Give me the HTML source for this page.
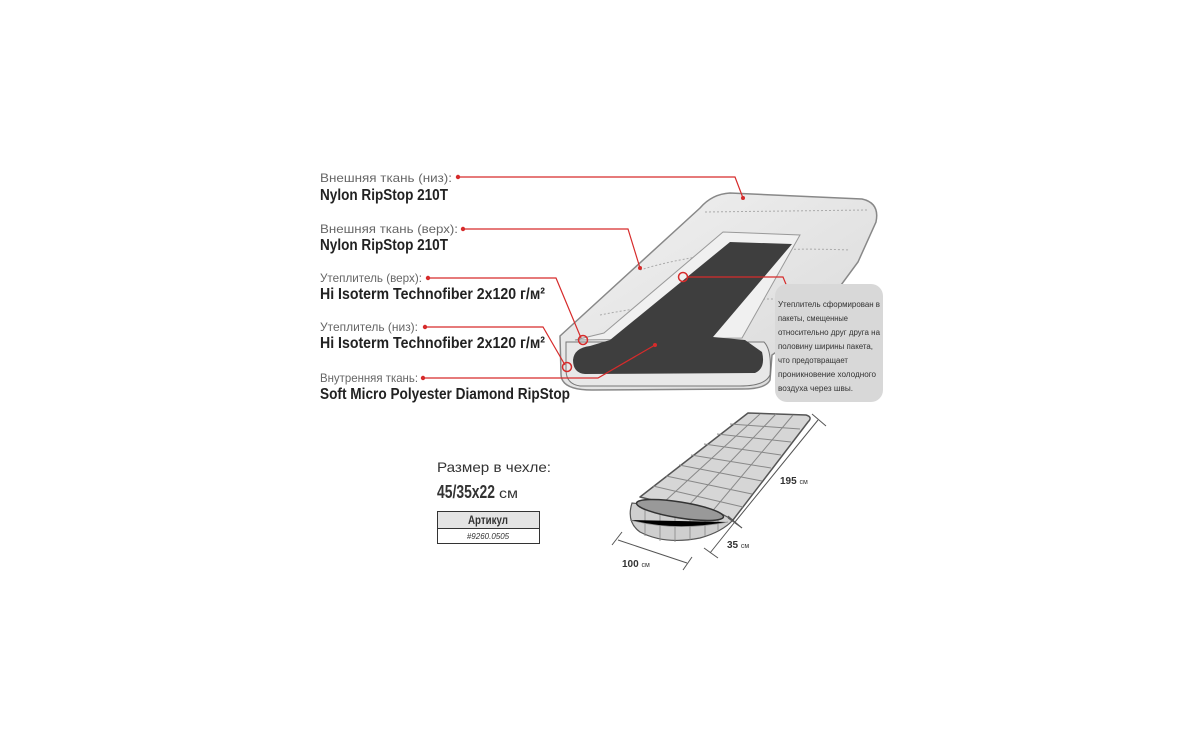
<!DOCTYPE html>
<html><head><meta charset="utf-8"><style>
html,body{margin:0;padding:0;background:#fff;width:1200px;height:750px;overflow:hidden}
svg{display:block;font-family:"Liberation Sans",sans-serif}
.l{font-size:12px;fill:#666}
.b{font-size:16px;font-weight:bold;fill:#222}
.s{font-size:8px;fill:#333}
</style></head><body>
<svg width="1200" height="750" viewBox="0 0 1200 750">
<defs>
<linearGradient id="g1" x1="0" y1="0" x2="1" y2="1"><stop offset="0" stop-color="#f2f2f2"/><stop offset="1" stop-color="#d8d8d8"/></linearGradient>
</defs>
<!-- big bag -->
<path d="M560,336 L700,208 Q712,194 730,193 L862,199 Q880,203 876,222 L858,262 L808,330 L772,355 L770,380 Q766,389 742,389 L592,390 Q561,390 561,374 Z" fill="url(#g1)" stroke="#888" stroke-width="1.5"/>
<path d="M705,212 L868,210" stroke="#aaa" stroke-dasharray="2,2" fill="none"/>
<path d="M640,270 Q720,245 850,250" stroke="#aaa" stroke-dasharray="2,2" fill="none"/>
<path d="M600,315 Q700,295 830,300" stroke="#aaa" stroke-dasharray="2,2" fill="none"/>
<path d="M566,342 L764,342 Q772,350 770,375 Q765,386 740,386 L580,386 Q566,384 566,370 Z" fill="#e8e8e8" stroke="#777"/>
<path d="M604,333 L723,232 L800,235 L742,338 L575,340 Z" fill="#f0f0f0" stroke="#999"/>
<path d="M730,242 L792,244 L713,337 L745,340 L762,352 Q766,368 755,373 L585,374 Q573,373 573,360 Q574,348 590,346 L610,340 Z" fill="#3e3e3e"/>
<!-- connectors -->
<g stroke="#d62b2b" stroke-width="1.2" fill="none">
<path d="M458,177 L735,177 L743,198"/>
<path d="M463,229 L628,229 L640,268"/>
<path d="M428,278 L556,278 L581,338"/>
<path d="M425,327 L543,327 L565,365"/>
<path d="M423,378 L598,378 L655,345"/>
<path d="M687,277 L783,277 L790,294"/>
<circle cx="683" cy="277" r="4.5" stroke-width="1.5"/>
<circle cx="583" cy="340" r="4.5" stroke-width="1.5"/>
<circle cx="567" cy="367" r="4.5" stroke-width="1.5"/>
</g>
<g fill="#d62b2b">
<circle cx="458" cy="177" r="2.2"/><circle cx="463" cy="229" r="2.2"/><circle cx="428" cy="278" r="2.2"/>
<circle cx="425" cy="327" r="2.2"/><circle cx="423" cy="378" r="2.2"/><circle cx="790" cy="295" r="2.2"/>
<circle cx="743" cy="198" r="2"/><circle cx="640" cy="268" r="2"/><circle cx="655" cy="345" r="2"/>
</g>
<!-- callout -->
<rect x="775" y="284" width="108" height="118" rx="12" fill="#d8d8d8"/>
<g class="s">
<text x="778" y="307" textLength="102" lengthAdjust="spacingAndGlyphs">Утеплитель сформирован в</text>
<text x="778" y="321" textLength="70" lengthAdjust="spacingAndGlyphs">пакеты, смещенные</text>
<text x="778" y="335" textLength="102" lengthAdjust="spacingAndGlyphs">относительно друг друга на</text>
<text x="778" y="349" textLength="95" lengthAdjust="spacingAndGlyphs">половину ширины пакета,</text>
<text x="778" y="363" textLength="70" lengthAdjust="spacingAndGlyphs">что предотвращает</text>
<text x="778" y="377" textLength="98" lengthAdjust="spacingAndGlyphs">проникновение холодного</text>
<text x="778" y="391" textLength="75" lengthAdjust="spacingAndGlyphs">воздуха через швы.</text>
</g>
<!-- labels -->
<text class="l" x="320" y="182" textLength="132" lengthAdjust="spacingAndGlyphs">Внешняя ткань (низ):</text>
<text class="b" x="320" y="200" textLength="128" lengthAdjust="spacingAndGlyphs">Nylon RipStop 210T</text>
<text class="l" x="320" y="233" textLength="138" lengthAdjust="spacingAndGlyphs">Внешняя ткань (верх):</text>
<text class="b" x="320" y="250" textLength="128" lengthAdjust="spacingAndGlyphs">Nylon RipStop 210T</text>
<text class="l" x="320" y="282" textLength="102" lengthAdjust="spacingAndGlyphs">Утеплитель (верх):</text>
<text class="b" x="320" y="299" textLength="225" lengthAdjust="spacingAndGlyphs">Hi Isoterm Technofiber 2x120 г/м²</text>
<text class="l" x="320" y="331" textLength="98" lengthAdjust="spacingAndGlyphs">Утеплитель (низ):</text>
<text class="b" x="320" y="348" textLength="225" lengthAdjust="spacingAndGlyphs">Hi Isoterm Technofiber 2x120 г/м²</text>
<text class="l" x="320" y="382" textLength="98" lengthAdjust="spacingAndGlyphs">Внутренняя ткань:</text>
<text class="b" x="320" y="399" textLength="250" lengthAdjust="spacingAndGlyphs">Soft Micro Polyester Diamond RipStop</text>
<!-- size -->
<text x="437" y="472" font-size="14" fill="#333" textLength="114" lengthAdjust="spacingAndGlyphs">Размер в чехле:</text>
<text x="437" y="498" font-size="18" font-weight="bold" fill="#333" textLength="58" lengthAdjust="spacingAndGlyphs">45/35x22</text>
<text x="499" y="498" font-size="14" fill="#333" textLength="19" lengthAdjust="spacingAndGlyphs">см</text>
<rect x="437.5" y="511.5" width="102" height="17" fill="#e4e4e4" stroke="#333"/>
<rect x="437.5" y="528.5" width="102" height="15" fill="#fff" stroke="#333"/>
<text x="488" y="524" font-size="12" font-weight="bold" fill="#333" text-anchor="middle" textLength="40" lengthAdjust="spacingAndGlyphs">Артикул</text>
<text x="488" y="539" font-size="8" font-style="italic" fill="#333" text-anchor="middle">#9260.0505</text>
<!-- small bag -->
<path d="M748,413 L806,415 Q813,417 808,422 L733,520 L640,497 Z" fill="#d6d6d6" stroke="#555" stroke-width="1.5" stroke-linejoin="round"/>
<g stroke="#888" stroke-width="1">
<path d="M760,414L663,503M776,414L686,508M793,415L710,514"/>
<path d="M730,424L800,429M717,434L791,442M704,444L781,455M691,455L771,468M679,465L762,481M666,476L752,494M653,486L743,507"/>
</g>
<path d="M632,503 Q626,522 640,532 Q665,545 700,538 Q722,532 733,520 L720,513 Z" fill="#cfcfcf" stroke="#555" stroke-width="1.2"/>
<g stroke="#888" stroke-width="0.8"><path d="M645,510V536M660,512V541M675,514V542M690,515V540M705,516V536M718,516V530"/><path d="M630,520 Q675,532 728,522"/></g>
<ellipse cx="680" cy="510" rx="44" ry="8" transform="rotate(9 680 510)" fill="#999" stroke="#333" stroke-width="1.5"/>
<g stroke="#555" stroke-width="1" fill="none">
<path d="M818,420 L735,522 M812,414 L826,426 M728,516 L742,528"/>
<path d="M734,523 L710,553 M728,518 L742,528 M704,548 L718,558"/>
<path d="M618,540 L687,563 M612,545 L622,532 M683,570 L692,557"/>
</g>
<text x="780" y="484" font-size="10" font-weight="bold" fill="#333">195 <tspan font-size="7" font-weight="normal">см</tspan></text>
<text x="727" y="548" font-size="10" font-weight="bold" fill="#333">35 <tspan font-size="7" font-weight="normal">см</tspan></text>
<text x="622" y="567" font-size="10" font-weight="bold" fill="#333">100 <tspan font-size="7" font-weight="normal">см</tspan></text>
</svg>
</body></html>
